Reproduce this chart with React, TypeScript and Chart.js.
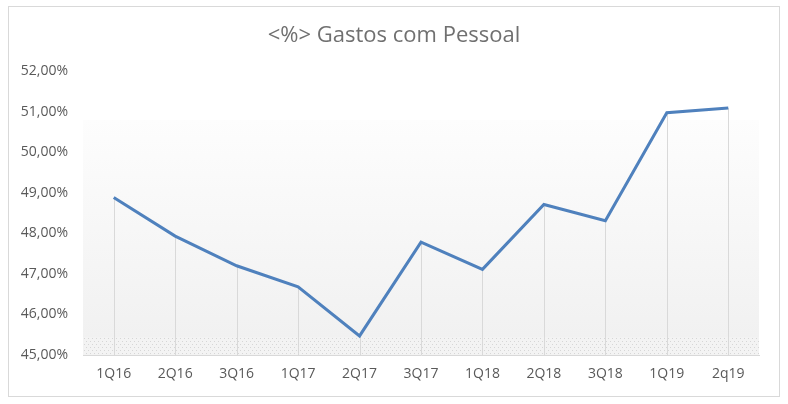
import React, { useEffect, useRef } from "react";
import { Chart, registerables } from "chart.js";

Chart.register(...registerables);

const categories = ["1Q16", "2Q16", "3Q16", "1Q17", "2Q17", "3Q17", "1Q18", "2Q18", "3Q18", "1Q19", "2q19"];
const gastosPessoal = [48.88, 47.93, 47.2, 46.68, 45.47, 47.78, 47.11, 48.71, 48.31, 50.97, 51.09];
const titleText = "<%> Gastos com Pessoal";
const yMin = 45;
const yMax = 52;

const fmt = (v: number) => v.toFixed(2).replace(".", ",") + "%";

const bgPlugin = {
  id: "plotBg",
  beforeDraw(chart: any) {
    const { ctx, chartArea } = chart;
    const { left, right, bottom, top } = chartArea;
    const gTop = top + 49;
    ctx.save();
    const g = ctx.createLinearGradient(0, gTop, 0, bottom);
    g.addColorStop(0, "#fdfdfd");
    g.addColorStop(1, "#f0f0f0");
    ctx.fillStyle = g;
    ctx.fillRect(left, gTop, right - left, bottom - gTop);
    const bandTop = bottom - 18;
    ctx.fillStyle = "#f3f3f3";
    ctx.fillRect(left, bandTop, right - left, bottom - bandTop);
    ctx.fillStyle = "#d6d6d6";
    let row = 0;
    for (let y = bandTop + 1; y < bottom; y += 3) {
      for (let x = left + 1 + (row % 2) * 2; x < right; x += 4) {
        ctx.fillRect(x, y, 1, 1);
      }
      row++;
    }
    ctx.restore();
  },
};

const titlePlugin = {
  id: "centerTitle",
  afterDraw(chart: any) {
    const { ctx, width } = chart;
    ctx.save();
    ctx.font = "22px 'Open Sans'";
    ctx.fillStyle = "#707070";
    ctx.textAlign = "center";
    ctx.textBaseline = "alphabetic";
    ctx.fillText(titleText, width / 2, 42);
    ctx.restore();
  },
};

const dropLines = {
  id: "dropLines",
  beforeDatasetsDraw(chart: any) {
    const { ctx, chartArea } = chart;
    const meta = chart.getDatasetMeta(0);
    ctx.save();
    ctx.strokeStyle = "#d9d9d9";
    ctx.lineWidth = 1;
    meta.data.forEach((pt: any) => {
      const x = Math.round(pt.x) + 0.5;
      ctx.beginPath();
      ctx.moveTo(x, pt.y);
      ctx.lineTo(x, chartArea.bottom);
      ctx.stroke();
    });
    ctx.restore();
  },
};

export default function App() {
  const ref = useRef<HTMLCanvasElement>(null);
  useEffect(() => {
    if (!ref.current) return;
    const chart = new Chart(ref.current, {
      type: "line",
      data: {
        labels: categories,
        datasets: [
          {
            data: gastosPessoal,
            borderColor: "#4f81bd",
            backgroundColor: "#4f81bd",
            borderWidth: 3,
            pointRadius: 0,
            tension: 0,
            fill: false,
          },
        ],
      },
      options: {
        responsive: false,
        animation: false,
        layout: { padding: { left: 0, right: 29, top: 71, bottom: 0 } },
        plugins: {
          legend: { display: false },
          tooltip: { enabled: false },
          title: { display: false },
        },
        scales: {
          x: {
            offset: true,
            grid: { display: false, drawTicks: false },
            border: { display: true, color: "#d9d9d9", width: 1 },
            ticks: {
              color: "#595959",
              font: { family: "'Open Sans'", size: 14 },
              padding: 11,
              maxRotation: 0,
            },
            afterFit: (s: any) => {
              s.height = 49;
            },
          },
          y: {
            min: yMin,
            max: yMax,
            grid: { display: false, drawTicks: false },
            border: { display: false },
            ticks: {
              stepSize: 1,
              color: "#595959",
              font: { family: "'Open Sans'", size: 14 },
              padding: 15,
              callback: (v: any) => fmt(Number(v)),
            },
            afterFit: (s: any) => {
              s.width = 83;
            },
          },
        },
      },
      plugins: [bgPlugin, dropLines, titlePlugin],
    });
    return () => chart.destroy();
  }, []);
  return (
    <div style={{ position: "fixed", left: 0, top: 0, width: 788, height: 404, background: "#fff" }}>
      <div
        style={{
          position: "absolute",
          left: 8,
          top: 6,
          width: 770,
          height: 389,
          border: "1px solid #d9d9d9",
        }}
      />
      <canvas ref={ref} width={788} height={404} style={{ position: "absolute", left: 0, top: 0 }} />
    </div>
  );
}
